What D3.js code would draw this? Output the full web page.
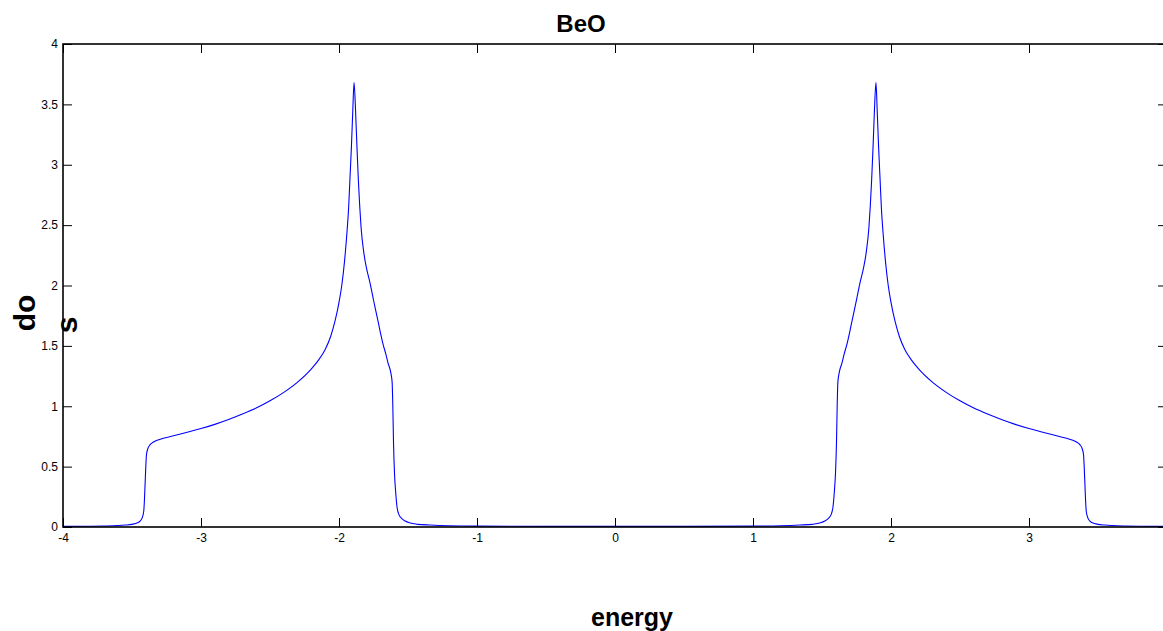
<!DOCTYPE html>
<html>
<head>
<meta charset="utf-8">
<script src="https://cdn.jsdelivr.net/npm/d3@7"></script>
<style>
  body { margin: 0; background: #fff; }
  svg { display: block; }
  text { font-family: "Liberation Sans", Arial, Helvetica, sans-serif; }
</style>
</head>
<body>
<script>
// density of states (energy, dos)
var energy = [-4, -3.8, -3.7, -3.6, -3.55, -3.5, -3.46, -3.44, -3.425, -3.415, -3.41, -3.405, -3.4, -3.395, -3.385,
  -3.37, -3.35, -3.3, -3.2, -3.1, -3.0, -2.9, -2.8, -2.7, -2.6, -2.5, -2.4, -2.3, -2.2, -2.15, -2.1, -2.06, -2.03,
  -2.0, -1.98, -1.96, -1.945, -1.93, -1.92, -1.91, -1.9, -1.891, -1.88, -1.87, -1.86, -1.85, -1.84, -1.82, -1.8,
  -1.775, -1.75, -1.72, -1.7, -1.68, -1.66, -1.645, -1.625, -1.615, -1.61, -1.605, -1.598, -1.59, -1.58, -1.565,
  -1.545, -1.52, -1.49, -1.43, -1.34, -1.2, -1.0, -0.5, 0,
  0.5, 1.0, 1.2, 1.34, 1.43, 1.49, 1.52, 1.545, 1.565, 1.58, 1.59, 1.598, 1.605, 1.61, 1.615, 1.625, 1.645, 1.66,
  1.68, 1.7, 1.72, 1.75, 1.775, 1.8, 1.82, 1.84, 1.85, 1.86, 1.87, 1.88, 1.891, 1.9, 1.91, 1.92, 1.93, 1.945, 1.96,
  1.98, 2.0, 2.03, 2.06, 2.1, 2.15, 2.2, 2.3, 2.4, 2.5, 2.6, 2.7, 2.8, 2.9, 3.0, 3.1, 3.2, 3.3, 3.35, 3.37, 3.385,
  3.395, 3.4, 3.405, 3.41, 3.415, 3.425, 3.44, 3.46, 3.5, 3.55, 3.6, 3.7, 3.8, 4];

var dos = [0.005, 0.006, 0.008, 0.012, 0.016, 0.022, 0.035, 0.05, 0.08, 0.13, 0.22, 0.36, 0.5, 0.6, 0.65,
  0.68, 0.70, 0.725, 0.755, 0.785, 0.815, 0.85, 0.89, 0.935, 0.985, 1.045, 1.115, 1.2, 1.31, 1.38, 1.47, 1.58, 1.70,
  1.86, 2.0, 2.2, 2.4, 2.65, 2.9, 3.15, 3.45, 3.68, 3.45, 3.15, 2.88, 2.66, 2.48, 2.27, 2.14,
  2.02, 1.88, 1.72, 1.61, 1.51, 1.43, 1.36, 1.28, 1.2, 1.0, 0.7, 0.45, 0.3, 0.17, 0.1,
  0.07, 0.05, 0.035, 0.022, 0.016, 0.01, 0.007, 0.005, 0.005,
  0.005, 0.007, 0.01, 0.016, 0.022, 0.035, 0.05, 0.07, 0.1, 0.17, 0.3, 0.45, 0.7, 1.0, 1.2, 1.28, 1.36, 1.43,
  1.51, 1.61, 1.72, 1.88, 2.02, 2.14, 2.27, 2.48, 2.66, 2.88, 3.15, 3.45, 3.68, 3.45, 3.15, 2.9, 2.65, 2.4, 2.2,
  2.0, 1.86, 1.70, 1.58, 1.47, 1.38, 1.31, 1.2, 1.115, 1.045, 0.985, 0.935, 0.89, 0.85, 0.815, 0.785, 0.755, 0.725, 0.70, 0.68, 0.65,
  0.6, 0.5, 0.36, 0.22, 0.13, 0.08, 0.05, 0.035, 0.022, 0.016, 0.012, 0.008, 0.006, 0.005];

var xTicks = [-4, -3, -2, -1, 0, 1, 2, 3, 4];
var xTickLabels = ["-4", "-3", "-2", "-1", "0", "1", "2", "3", ""]; // the 4 falls off the picture
var yTicks = [0, 0.5, 1, 1.5, 2, 2.5, 3, 3.5, 4];
var title = "BeO";
var xLabel = "energy";

var canvasWidth = 1163;
var canvasHeight = 631;
var margin = {top: 44, left: 63, bottom: 104};
var plotRight = 1167; // axes box runs just past the picture edge

var svg = d3.select("body").append("svg")
    .attr("width", canvasWidth)
    .attr("height", canvasHeight);

var xScale = d3.scaleLinear().domain([-4, 4]).range([margin.left, plotRight]);
var yScale = d3.scaleLinear().domain([0, 4]).range([canvasHeight - margin.bottom, margin.top]);

var points = energy.map(function(e, i) { return [e, dos[i]]; });

// the curve
var line = d3.line()
    .x(function(d) { return xScale(d[0]); })
    .y(function(d) { return yScale(d[1]); })
    .curve(d3.curveMonotoneX);

svg.append("path")
    .datum(points)
    .attr("fill", "none")
    .attr("stroke", "#0000ff")
    .attr("stroke-width", 1.1)
    .attr("d", line);

// axes, ticks pointing inwards like matlab
function styleAxis(g) {
  g.selectAll(".domain").remove();
  g.selectAll(".tick line").attr("stroke", "#000").attr("stroke-width", 1);
  g.selectAll(".tick text").attr("fill", "#000").style("font-size", "12px")
    .style("font-family", "'Liberation Sans', Arial, Helvetica, sans-serif");
}

svg.append("g")
    .attr("transform", "translate(0," + yScale(0) + ")")
    .call(d3.axisBottom(xScale).tickValues(xTicks).tickSizeInner(-9).tickSizeOuter(0).tickPadding(6)
      .tickFormat(function(d, i) { return xTickLabels[i]; }))
    .call(styleAxis);

svg.append("g")
    .attr("transform", "translate(0," + yScale(4) + ")")
    .call(d3.axisTop(xScale).tickValues(xTicks).tickSizeInner(-9).tickSizeOuter(0).tickFormat(""))
    .call(styleAxis);

svg.append("g")
    .attr("transform", "translate(" + xScale(-4) + ",0)")
    .call(d3.axisLeft(yScale).tickValues(yTicks).tickSizeInner(-9).tickSizeOuter(0).tickPadding(5)
      .tickFormat(function(d) { return String(d); }))
    .call(styleAxis);

svg.append("g")
    .attr("transform", "translate(" + xScale(4) + ",0)")
    .call(d3.axisRight(yScale).tickValues(yTicks).tickSizeInner(-9).tickSizeOuter(0).tickFormat(""))
    .call(styleAxis);

// box
svg.append("rect")
    .attr("x", xScale(-4))
    .attr("y", yScale(4))
    .attr("width", xScale(4) - xScale(-4))
    .attr("height", yScale(0) - yScale(4))
    .attr("fill", "none")
    .attr("stroke", "#000")
    .attr("stroke-width", 1.6);

// title and labels
svg.append("text")
    .attr("x", 581).attr("y", 32)
    .attr("text-anchor", "middle")
    .style("font-size", "24px").style("font-weight", "bold")
    .text(title);

svg.append("text")
    .attr("x", 632).attr("y", 626)
    .attr("text-anchor", "middle")
    .style("font-size", "25px").style("font-weight", "bold")
    .text(xLabel);

// y label comes out broken in two pieces in the original
svg.append("text")
    .attr("transform", "translate(35,313) rotate(-90)")
    .attr("text-anchor", "middle")
    .style("font-size", "30px").style("font-weight", "bold")
    .text("do");

svg.append("text")
    .attr("transform", "translate(77,325) rotate(-90)")
    .attr("text-anchor", "middle")
    .style("font-size", "30px").style("font-weight", "bold")
    .text("s");
</script>
</body>
</html>
